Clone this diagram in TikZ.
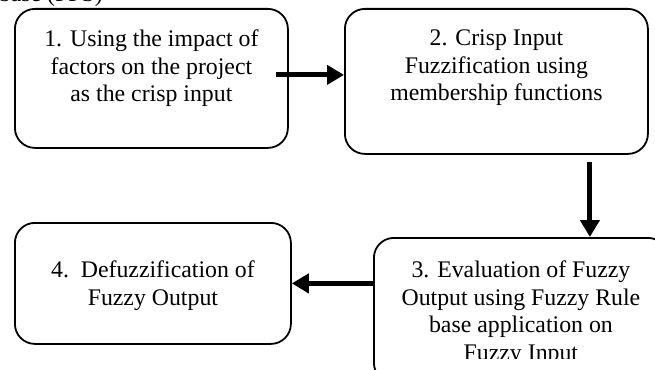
\documentclass[tikz,border=0pt]{standalone}
\usepackage{fontspec}
\setmainfont{Liberation Serif}
\usepackage{tikz}
\usetikzlibrary{arrows.meta, positioning}

\begin{document}
\begin{tikzpicture}[
  x=1pt, y=-1pt,
  stage/.style={draw, rounded corners=20pt, line width=1.8pt, inner sep=0pt,
                anchor=north west},
  txt/.style={align=center, inner sep=0pt, font=\fontsize{23.8}{27.5}\selectfont},
  arr/.style={-{Triangle[length=17pt, width=19pt]}, line width=5pt}
]
\useasboundingbox (0,0) rectangle (655,369);
\clip (0,0) rectangle (655,369);

\node[txt, anchor=base east] (head) at (103,2) {base (FPS)};

% the four stages
\node[stage, minimum width=273pt, minimum height=139pt] (b1) at (14,8) {};
\node[txt, below=21.7pt of b1.north] (t1)
  {1. Using the impact of\\factors on the project\\as the crisp input};

\node[stage, minimum width=303pt, minimum height=145pt] (b2) at (344,8) {};
\node[txt, below=21.7pt of b2.north] (t2)
  {2. Crisp Input\\Fuzzification using\\membership functions};

\node[stage, minimum width=294pt, minimum height=145pt] (b3) at (373,237) {};
\begin{scope}
  \clip (373,237) rectangle (655,358);
  \node[txt, below=23.7pt of b3.north] (t3)
    {3. Evaluation of Fuzzy\\Output using Fuzzy Rule\\base application on\\Fuzzy Input};
\end{scope}

\node[stage, minimum width=276pt, minimum height=121pt] (b4) at (14,222) {};
\node[txt, below=38.7pt of b4.north] (t4) {4.\ \ Defuzzification of\\Fuzzy Output};

% flow
\draw[arr] ([xshift=-13pt, yshift=3.5pt]b1.east) -- ([yshift=3.5pt]b1.east -| b2.west);
\draw[arr] ([xshift=93.5pt, yshift=-7pt]b2.south) -- ([xshift=93.5pt]b2.south |- b3.north);
\draw[arr] (b3.west |- b4.east) -- (b4.east);
\end{tikzpicture}
\end{document}
